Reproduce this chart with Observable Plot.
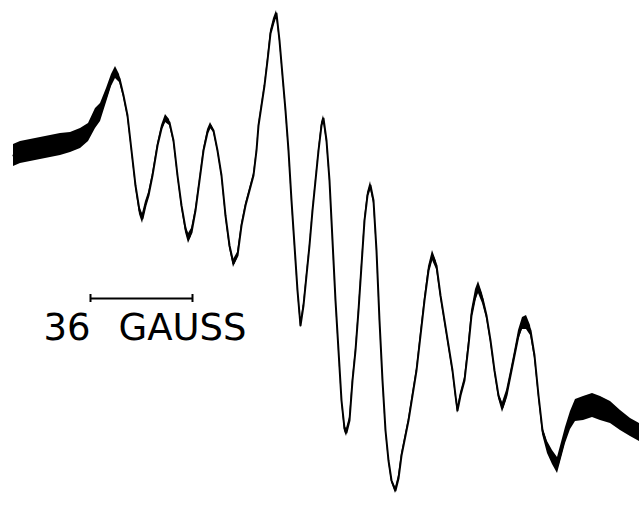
<!DOCTYPE html>
<html>
<head>
<meta charset="utf-8">
<script src="https://cdn.jsdelivr.net/npm/d3@7"></script>
<script src="https://cdn.jsdelivr.net/npm/@observablehq/plot@0.6"></script>
<style>
  html, body { margin: 0; padding: 0; background: #fff; }
  #chart svg { display: block; }
</style>
</head>
<body>
<div id="chart"></div>
<script>
// Magnetic field position (arbitrary units along the sweep)
const field = [
  13,20,30,40,50,60,70,80,88,95,
  100,106,111,115,119,123,127,131,135,139,
  142,145,148,152,157,161,165,169,173,177,
  181,185,188,191,195,199,203,207,210,213,
  217,221,225,229,233,237,241,245,249,253,
  256,258,261,264,267,270,273,276,279,282,
  285,288,291,294,297,300,303,306,309,312,
  315,318,321,323,326,329,332,335,338,341,
  344,346,349,352,355,358,361,364,367,370,
  373,376,379,382,385,388,391,395,398,401,
  404,408,412,416,420,424,428,432,436,440,
  444,448,452,455,457,460,464,468,471,475,
  478,482,486,490,494,498,502,506,510,514,
  518,522,526,530,534,538,542,547,552,557,
  561,565,570,575,583,592,600,610,620,630,
  639
];
// Derivative ESR signal (arbitrary units)
const signal = [
  115,118,120,122,124,126,128,132,138,152,
  158,175,190,198,192,175,155,120,85,60,
  52,65,75,95,125,142,152,148,130,95,
  65,42,32,38,60,90,120,138,145,140,
  120,95,55,25,7,15,45,65,80,95,
  120,145,165,185,210,237,248,257,230,195,
  160,120,70,25,-20,-55,-35,-5,25,60,
  90,120,145,152,130,90,30,-30,-80,-130,
  -158,-162,-150,-110,-80,-40,5,50,75,85,
  70,20,-50,-110,-160,-190,-210,-220,-208,-185,
  -170,-150,-125,-100,-65,-30,0,15,5,-25,
  -50,-75,-100,-125,-140,-125,-110,-75,-45,-25,
  -17,-28,-45,-70,-100,-125,-137,-125,-105,-85,
  -65,-53,-52,-60,-85,-125,-160,-177,-187,-195,
  -180,-165,-150,-140,-138,-135,-138,-142,-150,-157,
  -162
];
// Noise half-amplitude (same units as signal)
const noise = [
  11,11,11,11,11,11,10,10,9,10,
  9,7,6,6,4,2,2,1,2,4,
  5,4,3,2,2,3,4,3,2,1,
  2,4,5,4,2,1,2,3,3,2,
  1,1,2,3,4,3,2,2,2,2,
  1,1,1,1,2,3,4,3,1,1,
  1,1,1,1,1,2,2,2,1,1,
  1,1,3,3,2,1,1,1,1,1,
  3,4,3,2,2,2,2,2,3,4,
  3,1,1,1,1,1,2,3,3,2,
  2,2,2,2,3,3,4,5,4,2,
  2,2,2,2,3,3,3,4,5,6,
  6,5,3,2,2,3,5,5,4,4,
  5,6,7,5,3,2,4,6,7,8,
  8,8,9,11,12,12,12,11,10,9,
  9
];
// Scale bar
const scaleBar = [90, 192];
const scaleLabel = ["36", "GAUSS"];

const data = field.map((f, i) => ({field: f, signal: signal[i], noise: noise[i]}));

const barY = -28;
const chart = Plot.plot({
  width: 639,
  height: 515,
  marginTop: 0, marginRight: 0, marginBottom: 0, marginLeft: 0,
  x: {domain: [0, 639], axis: null},
  y: {domain: [-245, 270], axis: null},
  style: {background: "#fff"},
  marks: [
    Plot.areaY(data, {x: "field", y1: d => d.signal - d.noise, y2: d => d.signal + d.noise, fill: "#000", curve: "linear"}),
    Plot.line(data, {x: "field", y: "signal", stroke: "#000", strokeWidth: 2, curve: "linear"}),
    Plot.ruleY([barY], {x1: scaleBar[0], x2: scaleBar[1], stroke: "#000", strokeWidth: 2}),
    Plot.ruleX(scaleBar, {x: d => d, y1: barY - 4, y2: barY + 4, stroke: "#000", strokeWidth: 2}),
    Plot.text([scaleLabel[0]], {x: 43, y: -43, text: d => d, textAnchor: "start", lineAnchor: "top",
      fontSize: 37, fontFamily: "DejaVu Sans", fill: "#000"}),
    Plot.text([scaleLabel[1]], {x: 118, y: -43, text: d => d, textAnchor: "start", lineAnchor: "top",
      fontSize: 37, fontFamily: "DejaVu Sans", fill: "#000"})
  ]
});
document.getElementById("chart").appendChild(chart);
</script>
</body>
</html>
